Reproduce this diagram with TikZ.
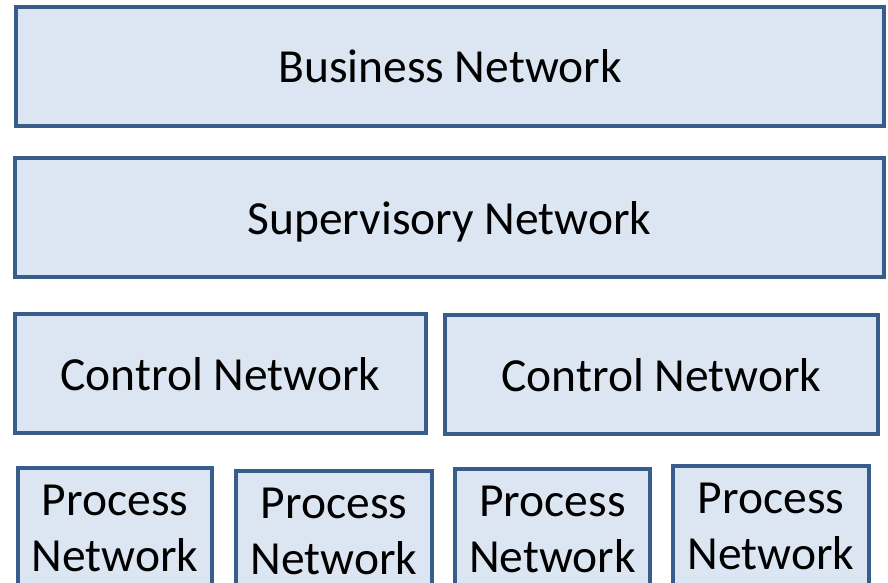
\documentclass[tikz,border=0pt]{standalone}
\usepackage{fontspec}
\setmainfont{Carlito}
\definecolor{netfill}{HTML}{DCE6F2}
\definecolor{netline}{HTML}{385D8A}

\begin{document}
\begin{tikzpicture}[x=1pt, y=-1pt,
        netbox/.style={draw=netline, fill=netfill, line width=3.5pt, inner sep=0pt,
                minimum height=119pt, text height=33pt, text depth=0pt,
                font=\fontsize{47.5}{56}\selectfont},
        procbox/.style={draw=netline, fill=netfill, line width=3.5pt, inner sep=0pt,
                anchor=north, minimum height=122pt, align=center,
                font=\fontsize{47.5}{56}\selectfont}]
        \useasboundingbox (0, 0) rectangle (888, 583);
        \clip (0, 0) rectangle (888, 583);
        \node [netbox, minimum width=868pt] (BN) at (450, 66.5) {Business Network};
        \node [netbox, minimum width=869pt] (SN) at (449.5, 217.5) {Supervisory Network};
        \node [netbox, minimum width=411pt] (CL) at (220.5, 373.5) {Control Network};
        \node [netbox, minimum width=433pt] (CR) at (661.5, 374.5) {Control Network};
        \node [procbox, minimum width=194pt] (P1) at (115, 466) {Process\\Network};
        \node [procbox, minimum width=196pt] (P2) at (334, 469) {Process\\Network};
        \node [procbox, minimum width=195pt] (P3) at (552.5, 467) {Process\\Network};
        \node [procbox, minimum width=196pt] (P4) at (771, 464) {Process\\Network};
\end{tikzpicture}
\end{document}
